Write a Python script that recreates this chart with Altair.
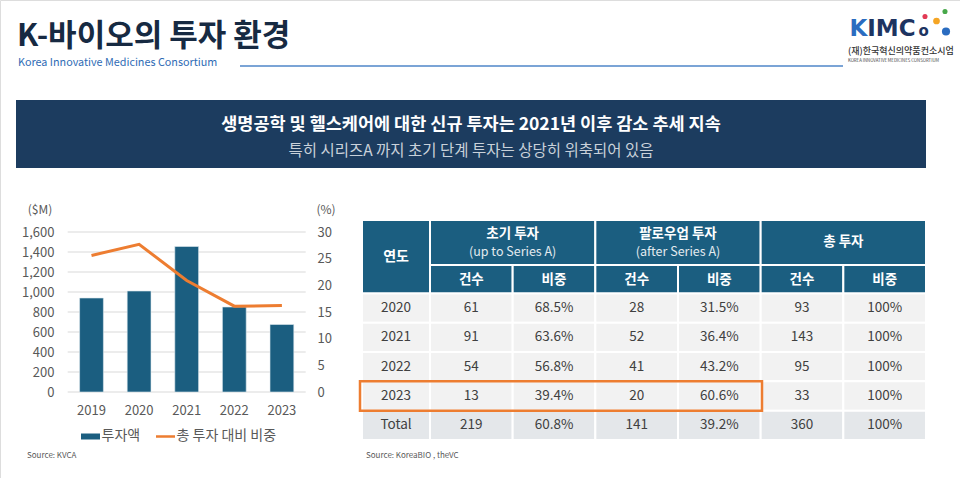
import altair as alt
import pandas as pd

FONT = "Noto Sans CJK KR"
GRAY = "#595959"
TEAL = "#1b5e80"
ORANGE = "#ed7d31"

# ---------------- chart data ----------------
years = ["2019", "2020", "2021", "2022", "2023"]
invest_musd = [940, 1010, 1455, 850, 675]
share_pct = [25.6, 27.7, 20.9, 16.1, 16.2]
left_ticks = [0, 200, 400, 600, 800, 1000, 1200, 1400, 1600]
right_ticks = [0, 5, 10, 15, 20, 25, 30]

# ---------------- table data ----------------
row_labels = ["2020", "2021", "2022", "2023", "Total"]
early_cnt = [61, 91, 54, 13, 219]
early_pct = [68.5, 63.6, 56.8, 39.4, 60.8]
follow_cnt = [28, 52, 41, 20, 141]
follow_pct = [31.5, 36.4, 43.2, 60.6, 39.2]
total_cnt = [93, 143, 95, 33, 360]
total_pct = [100, 100, 100, 100, 100]
group_labels = ["초기 투자", "팔로우업 투자", "총 투자"]
group_sub = ["(up to Series A)", "(after Series A)", ""]
sub_labels = ["건수", "비중"]
highlight_row = "2023"

# ---------------- helpers ----------------
def one():
    return pd.DataFrame({"k": [0]})


def txt(s, x, y, size, color, weight="normal", align="left", baseline="middle", font=FONT):
    return alt.Chart(pd.DataFrame({"s": [s]})).mark_text(
        font=font, fontSize=size, color=color, fontWeight=weight, align=align, baseline=baseline
    ).encode(x=alt.value(x), y=alt.value(y), text="s:N")


def box(x1, x2, y1, y2, color, **kw):
    return alt.Chart(one()).mark_rect(color=color, **kw).encode(
        x=alt.value(x1), x2=alt.value(x2), y=alt.value(y1), y2=alt.value(y2)
    )


def hrule(x1, x2, y, color, w):
    return alt.Chart(one()).mark_rule(color=color, strokeWidth=w).encode(
        x=alt.value(x1), x2=alt.value(x2), y=alt.value(y)
    )


def dot(x, y, area, color):
    return alt.Chart(one()).mark_circle(color=color, opacity=1, size=area).encode(
        x=alt.value(x), y=alt.value(y)
    )


layers = []

# ---------------- header ----------------
layers.append(txt("K-바이오의 투자 환경", 17, 46, 31, "#172a42", weight="bold", baseline="alphabetic"))
layers.append(txt("Korea Innovative Medicines Consortium", 18, 63, 10.8, "#2f6cb5"))
layers.append(hrule(240, 843, 66, "#4f86c9", 1.5))

# logo
layers.append(txt("K", 849.5, 36, 23, "#2a6cc0", weight="bold", baseline="alphabetic", font="DejaVu Sans"))
layers.append(txt("IMC", 867.3, 36, 23, "#1d3461", weight="bold", baseline="alphabetic", font="DejaVu Sans"))
layers.append(txt("o", 918.5, 36, 15, "#1d3461", weight="bold", baseline="alphabetic", font="DejaVu Sans"))
layers.append(dot(925, 16.5, 26, "#e23a55"))
layers.append(dot(945, 11.5, 26, "#48a84a"))
layers.append(dot(936.5, 21, 45, "#f5a524"))
layers.append(dot(946, 31.5, 66, "#2a6cc0"))
layers.append(txt("(재)한국혁신의약품컨소시엄", 848, 51, 9, "#333333", weight=500))
layers.append(txt("KOREA INNOVATIVE MEDICINES CONSORTIUM", 848, 60.5, 4.3, "#444444"))

# banner
layers.append(box(16, 926, 100, 168, "#1c3c5f"))
layers.append(txt("생명공학 및 헬스케어에 대한 신규 투자는 2021년 이후 감소 추세 지속",
                  471, 125, 17.5, "#ffffff", weight="bold", align="center"))
layers.append(txt("특히 시리즈A 까지 초기 단계 투자는 상당히 위축되어 있음",
                  471, 151, 15.5, "#c9d1da", align="center"))

# ---------------- bar + line chart ----------------
X_BAR = alt.Scale(domain=years, range=[67.7, 305.7], paddingInner=0.5, paddingOuter=0.25)
X_PT = alt.Scale(type="point", domain=years, range=[67.7, 305.7], padding=0.5)
Y_AMT = alt.Scale(domain=[0, 1600], range=[392, 232])
Y_PCT = alt.Scale(domain=[0, 30], range=[392, 232])

chart_df = pd.DataFrame({"year": years, "amount": invest_musd, "share": share_pct})

grid = alt.Chart(pd.DataFrame({"v": left_ticks})).mark_rule(color="#d9d9d9", strokeWidth=1).encode(
    y=alt.Y("v:Q", scale=Y_AMT, axis=None), x=alt.value(67.7), x2=alt.value(305.7)
)
layers.append(grid)

axis_common = dict(domain=False, ticks=False, tickSize=0, labelPadding=0, grid=False, title=None,
                   labelFont=FONT, labelFontSize=13, labelColor=GRAY)

bars = alt.Chart(chart_df).mark_bar(color=TEAL, stroke="#dfe9ef", strokeWidth=0.6).encode(
    x=alt.X("year:O", scale=X_BAR,
            axis=alt.Axis(orient="bottom", offset=-74, labelAngle=0, labelBaseline="top", **axis_common)),
    y=alt.Y("amount:Q", scale=Y_AMT,
            axis=alt.Axis(orient="left", offset=-54, values=left_ticks, format=",.0f", **axis_common)),
)
layers.append(bars)

line = alt.Chart(chart_df).mark_line(color=ORANGE, strokeWidth=3).encode(
    x=alt.X("year:O", scale=X_PT, axis=None),
    y=alt.Y("share:Q", scale=Y_PCT,
            axis=alt.Axis(orient="right", offset=-643, values=right_ticks, format="d",
                          labelAlign="left", **axis_common)),
)
layers.append(line)

layers.append(txt("($M)", 40, 210, 12, GRAY, align="center"))
layers.append(txt("(%)", 326, 210, 12, GRAY, align="center"))

# legend
layers.append(box(81, 100, 433.5, 439.5, TEAL))
layers.append(txt("투자액", 101.5, 436, 14, GRAY))
layers.append(hrule(156, 175, 436.5, ORANGE, 2.5))
layers.append(txt("총 투자 대비 비중", 176.5, 436, 14, GRAY))
layers.append(txt("Source: KVCA", 27, 456, 8, GRAY))

# ---------------- table ----------------
col_keys = [f"{g}|{s}" for g in group_labels for s in sub_labels]
ROW_SCALE = alt.Scale(domain=row_labels, range=[293.3, 440], paddingInner=0, paddingOuter=0)
COL_SCALE = alt.Scale(domain=col_keys, range=[430, 926], paddingInner=0, paddingOuter=0)
GRP_SCALE = alt.Scale(domain=group_labels, range=[430, 926], paddingInner=0, paddingOuter=0)
FILL_SCALE = alt.Scale(domain=["data", "total"], range=["#f2f2f2", "#e4e7ea"])

cols_values = [early_cnt, early_pct, follow_cnt, follow_pct, total_cnt, total_pct]
recs = []
for i, r in enumerate(row_labels):
    kind = "total" if r == "Total" else "data"
    for j, key in enumerate(col_keys):
        v = cols_values[j][i]
        if j % 2 == 1:
            label = f"{v:.1f}%" if v != 100 else "100%"
        else:
            label = str(v)
        recs.append({"row": r, "col": key, "label": label, "kind": kind})
cells = pd.DataFrame(recs)
rows_df = pd.DataFrame({"row": row_labels, "kind": ["total" if r == "Total" else "data" for r in row_labels]})

layers.append(alt.Chart(cells).mark_rect(stroke="white", strokeWidth=2).encode(
    x=alt.X("col:N", scale=COL_SCALE, axis=None),
    y=alt.Y("row:N", scale=ROW_SCALE, axis=None),
    color=alt.Color("kind:N", scale=FILL_SCALE, legend=None),
))
layers.append(alt.Chart(rows_df).mark_rect(stroke="white", strokeWidth=2).encode(
    x=alt.value(362), x2=alt.value(430),
    y=alt.Y("row:N", scale=ROW_SCALE, axis=None),
    color=alt.Color("kind:N", scale=FILL_SCALE, legend=None),
))

# header cells
layers.append(box(362, 430, 220, 293.3, TEAL, stroke="white", strokeWidth=2))
grp_df = pd.DataFrame({"grp": group_labels, "sub": group_sub})
layers.append(alt.Chart(grp_df).mark_rect(color=TEAL, stroke="white", strokeWidth=2).encode(
    x=alt.X("grp:N", scale=GRP_SCALE, axis=None), y=alt.value(220), y2=alt.value(265)
))
sub_df = pd.DataFrame({"col": col_keys, "label": [k.split("|")[1] for k in col_keys]})
layers.append(alt.Chart(sub_df).mark_rect(color=TEAL, stroke="white", strokeWidth=2).encode(
    x=alt.X("col:N", scale=COL_SCALE, axis=None), y=alt.value(265), y2=alt.value(293.3)
))

# header texts
layers.append(txt("연도", 396, 257, 14, "white", weight="bold", align="center"))
two_line = grp_df[grp_df["sub"] != ""]
one_line = grp_df[grp_df["sub"] == ""]
layers.append(alt.Chart(two_line).mark_text(font=FONT, fontSize=13.5, fontWeight="bold", color="white").encode(
    x=alt.X("grp:N", scale=GRP_SCALE, axis=None), y=alt.value(233.5), text="grp:N"))
layers.append(alt.Chart(two_line).mark_text(font=FONT, fontSize=12.5, color="#e3eaef").encode(
    x=alt.X("grp:N", scale=GRP_SCALE, axis=None), y=alt.value(251.5), text="sub:N"))
layers.append(alt.Chart(one_line).mark_text(font=FONT, fontSize=13.5, fontWeight="bold", color="white").encode(
    x=alt.X("grp:N", scale=GRP_SCALE, axis=None), y=alt.value(242), text="grp:N"))
layers.append(alt.Chart(sub_df).mark_text(font=FONT, fontSize=13.5, fontWeight="bold", color="white").encode(
    x=alt.X("col:N", scale=COL_SCALE, axis=None), y=alt.value(280), text="label:N"))

# body texts
layers.append(alt.Chart(cells).mark_text(font=FONT, fontSize=13.5, color="#404040").encode(
    x=alt.X("col:N", scale=COL_SCALE, axis=None),
    y=alt.Y("row:N", scale=ROW_SCALE, axis=None), text="label:N"))
layers.append(alt.Chart(rows_df).mark_text(font=FONT, fontSize=13.5, color="#404040").encode(
    x=alt.value(396), y=alt.Y("row:N", scale=ROW_SCALE, axis=None), text="row:N"))

# highlight box for 2023 row
layers.append(alt.Chart(pd.DataFrame({"row": [highlight_row]})).mark_rect(
    fillOpacity=0, stroke=ORANGE, strokeWidth=2.5).encode(
    x=alt.value(360), x2=alt.value(762),
    y=alt.Y("row:N", scale=ROW_SCALE, axis=None)))

layers.append(txt("Source: KoreaBIO , theVC", 366, 456, 8, GRAY))

chart = alt.layer(*layers).resolve_scale(x="independent", y="independent").properties(
    width=960, height=478, padding=0, autosize=alt.AutoSizeParams(type="none")
).configure_view(strokeWidth=0).configure(background="white")

chart.save("out.html", embed_options={"renderer": "svg", "actions": False})
